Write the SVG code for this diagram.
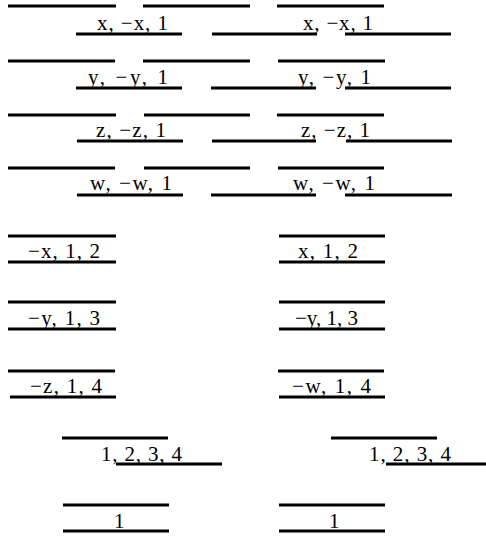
<svg xmlns="http://www.w3.org/2000/svg" width="486" height="537" viewBox="0 0 486 537">
<style>
line{stroke:#000;stroke-width:3}
text{font-family:"Liberation Serif","Times New Roman",serif;font-size:21px;fill:#000}
</style>
<rect width="486" height="537" fill="#fff"/>
<g id="connectors">
<line x1="8" y1="6" x2="116" y2="6"/><line x1="143" y1="6" x2="250" y2="6"/><line x1="277" y1="6" x2="384" y2="6"/>
<line x1="76" y1="34" x2="182" y2="34"/><line x1="212" y1="34" x2="317" y2="34"/><line x1="345" y1="34" x2="451" y2="34"/>
<line x1="8" y1="61" x2="115" y2="61"/><line x1="143" y1="61" x2="250" y2="61"/><line x1="278" y1="61" x2="385" y2="61"/>
<line x1="76" y1="88" x2="182" y2="88"/><line x1="211" y1="88" x2="316" y2="88"/><line x1="345" y1="88" x2="451" y2="88"/>
<line x1="8" y1="115" x2="116" y2="115"/><line x1="144" y1="115" x2="250" y2="115"/><line x1="277" y1="115" x2="384" y2="115"/>
<line x1="77" y1="141" x2="183" y2="141"/><line x1="212" y1="141" x2="316" y2="141"/><line x1="346" y1="141" x2="452" y2="141"/>
<line x1="8" y1="168" x2="115" y2="168"/><line x1="144" y1="168" x2="250" y2="168"/><line x1="278" y1="168" x2="384" y2="168"/>
<line x1="77" y1="195" x2="183" y2="195"/><line x1="211" y1="195" x2="316" y2="195"/><line x1="345" y1="195" x2="452" y2="195"/>
<line x1="8" y1="236" x2="116" y2="236"/><line x1="279" y1="236" x2="385" y2="236"/>
<line x1="8" y1="262" x2="116" y2="262"/><line x1="279" y1="262" x2="385" y2="262"/>
<line x1="8" y1="302" x2="116" y2="302"/><line x1="279" y1="302" x2="385" y2="302"/>
<line x1="8" y1="329" x2="116" y2="329"/><line x1="279" y1="329" x2="385" y2="329"/>
<line x1="8" y1="371" x2="115" y2="371"/><line x1="278" y1="371" x2="384" y2="371"/>
<line x1="10" y1="397" x2="116" y2="397"/><line x1="279" y1="397" x2="385" y2="397"/>
<line x1="62" y1="438" x2="168" y2="438"/><line x1="331" y1="438" x2="437" y2="438"/>
<line x1="116" y1="464" x2="222" y2="464"/><line x1="386" y1="464" x2="486" y2="464"/>
<line x1="63" y1="505" x2="169" y2="505"/><line x1="279" y1="505" x2="385" y2="505"/>
<line x1="63" y1="531" x2="169" y2="531"/><line x1="279" y1="531" x2="385" y2="531"/>
</g>
<g id="n1"><text x="97" y="30" textLength="71" lengthAdjust="spacing">x, −x, 1</text></g>
<g id="n2"><text x="303" y="30" textLength="70" lengthAdjust="spacing">x, −x, 1</text></g>
<g id="n3"><text x="88" y="84" textLength="80" lengthAdjust="spacing">y, −y, 1</text></g>
<g id="n4"><text x="298" y="84" textLength="73" lengthAdjust="spacing">y, −y, 1</text></g>
<g id="n5"><text x="96" y="137" textLength="70" lengthAdjust="spacing">z, −z, 1</text></g>
<g id="n6"><text x="301" y="137" textLength="69" lengthAdjust="spacing">z, −z, 1</text></g>
<g id="n7"><text x="90" y="190" textLength="82" lengthAdjust="spacing">w, −w, 1</text></g>
<g id="n8"><text x="293" y="190" textLength="82" lengthAdjust="spacing">w, −w, 1</text></g>
<g id="n9"><text x="28" y="258" textLength="72" lengthAdjust="spacing">−x, 1, 2</text></g>
<g id="n10"><text x="298" y="258" textLength="60" lengthAdjust="spacing">x, 1, 2</text></g>
<g id="n11"><text x="28" y="325" textLength="72" lengthAdjust="spacing">−y, 1, 3</text></g>
<g id="n12"><text x="295" y="325" textLength="63" lengthAdjust="spacing">−y, 1, 3</text></g>
<g id="n13"><text x="30" y="393" textLength="72" lengthAdjust="spacing">−z, 1, 4</text></g>
<g id="n14"><text x="292" y="393" textLength="79" lengthAdjust="spacing">−w, 1, 4</text></g>
<g id="n15"><text x="101" y="461" textLength="81" lengthAdjust="spacing">1, 2, 3, 4</text></g>
<g id="n16"><text x="369" y="461" textLength="82" lengthAdjust="spacing">1, 2, 3, 4</text></g>
<g id="n17"><text x="114" y="528">1</text></g>
<g id="n18"><text x="329" y="528">1</text></g>
</svg>
